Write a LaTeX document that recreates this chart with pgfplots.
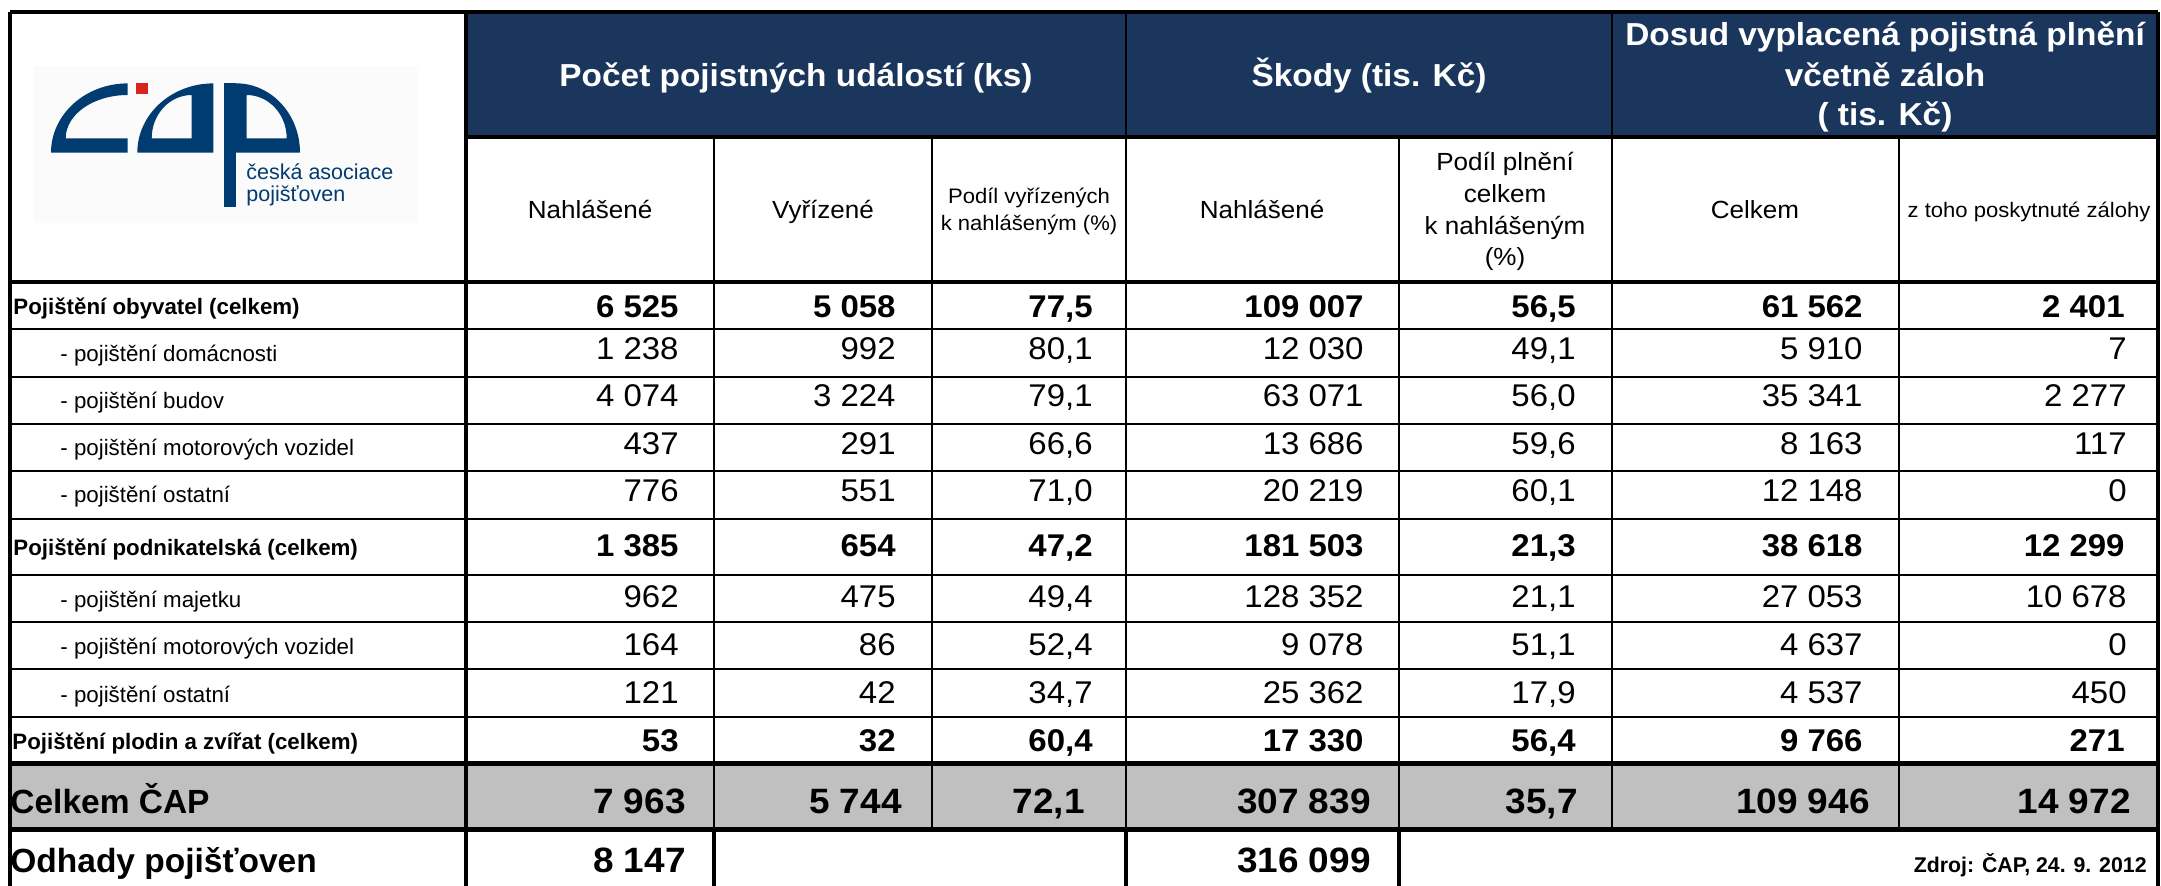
\documentclass[border=0pt]{standalone}
\usepackage{fontspec}
\setmainfont{Liberation Sans}
\newfontfamily\stretched{Liberation Sans}[FakeStretch=1.05]
\usepackage{pgfplots}
\usepackage{pgfplotstable}
\pgfplotsset{compat=1.18}
\definecolor{navy}{RGB}{26,54,93}
\definecolor{logoblue}{RGB}{0,59,113}
\definecolor{logored}{RGB}{218,37,29}
\definecolor{rowgray}{RGB}{192,192,192}
\newcommand\fs[1]{\fontsize{#1}{#1}\selectfont}
\pgfkeys{/pgf/number format/cnt/.style={fixed, precision=0, 1000 sep={\ }, assume math mode=true},
         /pgf/number format/pct/.style={fixed, fixed zerofill, precision=1, use comma, assume math mode=true}}

% y = baseline of the row (px from top); a..g = the seven value columns
\pgfplotstableread{
y a b c d e f g
359 1238 992 80.1 12030 49.1 5910 7
406.5 4074 3224 79.1 63071 56.0 35341 2277
454 437 291 66.6 13686 59.6 8163 117
501.5 776 551 71.0 20219 60.1 12148 0
607 962 475 49.4 128352 21.1 27053 10678
655 164 86 52.4 9078 51.1 4637 0
703 121 42 34.7 25362 17.9 4537 450
}\regrows
\pgfplotstableread{
y a b c d e f g
317 6525 5058 77.5 109007 56.5 61562 2401
556 1385 654 47.2 181503 21.3 38618 12299
751 53 32 60.4 17330 56.4 9766 271
}\boldrows
\pgfplotstableread{
y a b c d e f g
813 7963 5744 72.1 307839 35.7 109946 14972
}\totalrow
\pgfplotstableread{
x y v
686 872 8147
1371 872 316099
}\estrow

\pgfplotsset{
  cellbase/.style={only marks, mark=none, point meta=explicit symbolic,
     every node near coord/.append style={anchor=base east, inner sep=0pt, text=black}},
  creg/.style={cellbase, nodes near coords={\pgfmathprintnumber[cnt]{\pgfplotspointmeta}},
     every node near coord/.append style={font=\stretched\fs{15.7}}},
  preg/.style={cellbase, nodes near coords={\pgfmathprintnumber[pct]{\pgfplotspointmeta}},
     every node near coord/.append style={font=\stretched\fs{15.7}}},
  cbold/.style={cellbase, nodes near coords={\pgfmathprintnumber[cnt]{\pgfplotspointmeta}},
     every node near coord/.append style={font=\stretched\bfseries\fs{15.7}}},
  pbold/.style={cellbase, nodes near coords={\pgfmathprintnumber[pct]{\pgfplotspointmeta}},
     every node near coord/.append style={font=\stretched\bfseries\fs{15.7}}},
  cbig/.style={cellbase, nodes near coords={\pgfmathprintnumber[cnt]{\pgfplotspointmeta}},
     every node near coord/.append style={font=\stretched\bfseries\fs{17.6}}},
  pbig/.style={cellbase, nodes near coords={\pgfmathprintnumber[pct]{\pgfplotspointmeta}},
     every node near coord/.append style={font=\stretched\bfseries\fs{17.6}}},
}

\begin{document}
\begin{tikzpicture}
\useasboundingbox (0,0) rectangle (1080.5pt,442.5pt);
\begin{axis}[
  at={(0,0)}, anchor=south west,
  scale only axis, width=1080.5pt, height=442.5pt,
  xmin=0, xmax=2161, ymin=0, ymax=885, y dir=reverse,
  hide axis, clip=true,
]
% ---- fills
\fill[navy] (axis cs:466,12) rectangle (axis cs:2158,137);
\fill[rowgray] (axis cs:10,763) rectangle (axis cs:2158,829);
\fill[white!97!gray] (axis cs:33,66) rectangle (axis cs:417,223);

% ---- logo
\fill[logoblue] (axis cs:51,152.7) arc[start angle=180, end angle=90, x radius=38.35pt, y radius=34.65pt]
   -- (axis cs:127.7,95) arc[start angle=90, end angle=180, x radius=31pt, y radius=21.65pt]
   -- (axis cs:127.7,138.3) -- (axis cs:127.7,152.7) -- cycle;
\fill[logored] (axis cs:136,82.7) rectangle (axis cs:148.3,94);
\fill[logoblue, even odd rule] (axis cs:137.3,152.7) arc[start angle=180, end angle=90, x radius=38pt, y radius=34.65pt]
   -- (axis cs:213.3,152.7) -- cycle
   (axis cs:151.7,138.3) arc[start angle=180, end angle=90, x radius=20pt, y radius=21.65pt]
   -- (axis cs:191.7,138.3) -- cycle;
\fill[logoblue] (axis cs:224,83.3) rectangle (axis cs:236,206.7);
\fill[logoblue, even odd rule] (axis cs:236,83.3) arc[start angle=90, end angle=0, x radius=32pt, y radius=34.65pt]
   -- (axis cs:236,152.7) -- cycle
   (axis cs:246.7,95) arc[start angle=90, end angle=0, x radius=20pt, y radius=21.65pt]
   -- (axis cs:246.7,138.3) -- cycle;
\node[anchor=base west, inner sep=0pt, text=logoblue, font=\fs{10.75}] at (axis cs:246,179.3) {česká asociace};
\node[anchor=base west, inner sep=0pt, text=logoblue, font=\fs{10.75}] at (axis cs:246,201.7) {pojišťoven};

% ---- grid lines
\draw[line width=2pt] (axis cs:10,12) -- (axis cs:2158,12);
\draw[line width=1.75pt] (axis cs:10,12) -- (axis cs:10,890);
\draw[line width=2pt] (axis cs:2158,12) -- (axis cs:2158,890);
\draw[line width=1.6pt] (axis cs:466,137) -- (axis cs:2158,137);
\draw[line width=2.25pt] (axis cs:10,282) -- (axis cs:2158,282);
\pgfplotsinvokeforeach{329,377,424,471,519,575,622,669,717}{
  \draw[line width=1.35pt] (axis cs:10,#1) -- (axis cs:2158,#1);
}
\draw[line width=2.5pt] (axis cs:10,763) -- (axis cs:2158,763);
\draw[line width=2.5pt] (axis cs:10,829) -- (axis cs:2158,829);
\draw[line width=1.75pt] (axis cs:466,12) -- (axis cs:466,890);
\draw[line width=1.35pt] (axis cs:1126,12) -- (axis cs:1126,829);
\draw[line width=1.35pt] (axis cs:1612,12) -- (axis cs:1612,829);
\pgfplotsinvokeforeach{714,932,1399,1899}{
  \draw[line width=1.35pt] (axis cs:#1,137) -- (axis cs:#1,829);
}
\pgfplotsinvokeforeach{466,714,1126,1399}{
  \draw[line width=2pt] (axis cs:#1,829) -- (axis cs:#1,890);
}

% ---- header row 1
\begin{scope}[every node/.style={anchor=base, inner sep=0pt, text=white, font=\stretched\bfseries\fs{15.9}}]
\node at (axis cs:796,86) {Počet pojistných událostí (ks)};
\node at (axis cs:1369,86) {Škody (tis. Kč)};
\node at (axis cs:1885,45) {Dosud vyplacená pojistná plnění};
\node at (axis cs:1885,86) {včetně záloh};
\node at (axis cs:1885,125) {( tis. Kč)};
\end{scope}
% ---- header row 2
\begin{scope}[every node/.style={anchor=base, inner sep=0pt, text=black, font=\stretched\fs{12.4}}]
\node at (axis cs:590,218) {Nahlášené};
\node at (axis cs:823,218) {Vyřízené};
\node at (axis cs:1262,218) {Nahlášené};
\node at (axis cs:1505,170) {Podíl plnění};
\node at (axis cs:1505,202) {celkem};
\node at (axis cs:1505,234) {k nahlášeným};
\node at (axis cs:1505,265) {(\%)};
\node at (axis cs:1755,218) {Celkem};
\end{scope}
\begin{scope}[every node/.style={anchor=base, inner sep=0pt, text=black, font=\stretched\fs{10.5}}]
\node at (axis cs:1029,203) {Podíl vyřízených};
\node at (axis cs:1029,230) {k nahlášeným (\%)};
\node at (axis cs:2029,217) {z toho poskytnuté zálohy};
\end{scope}

% ---- row labels
\begin{scope}[every node/.style={anchor=base west, inner sep=0pt, text=black, font=\bfseries\fs{11.15}}]
\node at (axis cs:13,314) {Pojištění obyvatel (celkem)};
\node at (axis cs:13,555.5) {Pojištění podnikatelská (celkem)};
\node at (axis cs:12,749) {Pojištění plodin a zvířat (celkem)};
\end{scope}
\begin{scope}[every node/.style={anchor=base west, inner sep=0pt, text=black, font=\fs{11.15}}]
\node at (axis cs:60,361) {- pojištění domácnosti};
\node at (axis cs:60,408) {- pojištění budov};
\node at (axis cs:60,455.3) {- pojištění motorových vozidel};
\node at (axis cs:60,502.7) {- pojištění ostatní};
\node at (axis cs:60,607) {- pojištění majetku};
\node at (axis cs:60,654.5) {- pojištění motorových vozidel};
\node at (axis cs:60,702) {- pojištění ostatní};
\end{scope}
\node[anchor=base west, inner sep=0pt, font=\bfseries\fs{16.75}] at (axis cs:10,813) {Celkem ČAP};
\node[anchor=base west, inner sep=0pt, font=\bfseries\fs{16.75}] at (axis cs:10,872.5) {Odhady pojišťoven};
\node[anchor=base east, inner sep=0pt, font=\bfseries\fs{10.65}] at (axis cs:2147,872) {Zdroj: ČAP, 24. 9. 2012};

% ---- values
\addplot[creg] table[x expr=679, y=y, meta=a] {\regrows};
\addplot[creg] table[x expr=896, y=y, meta=b] {\regrows};
\addplot[preg] table[x expr=1093, y=y, meta=c] {\regrows};
\addplot[creg] table[x expr=1364, y=y, meta=d] {\regrows};
\addplot[preg] table[x expr=1576, y=y, meta=e] {\regrows};
\addplot[creg] table[x expr=1863, y=y, meta=f] {\regrows};
\addplot[creg] table[x expr=2127, y=y, meta=g] {\regrows};

\addplot[cbold] table[x expr=679, y=y, meta=a] {\boldrows};
\addplot[cbold] table[x expr=896, y=y, meta=b] {\boldrows};
\addplot[pbold] table[x expr=1093, y=y, meta=c] {\boldrows};
\addplot[cbold] table[x expr=1364, y=y, meta=d] {\boldrows};
\addplot[pbold] table[x expr=1576, y=y, meta=e] {\boldrows};
\addplot[cbold] table[x expr=1863, y=y, meta=f] {\boldrows};
\addplot[cbold] table[x expr=2125, y=y, meta=g] {\boldrows};

\addplot[cbig] table[x expr=686, y=y, meta=a] {\totalrow};
\addplot[cbig] table[x expr=902, y=y, meta=b] {\totalrow};
\addplot[pbig] table[x expr=1085, y=y, meta=c] {\totalrow};
\addplot[cbig] table[x expr=1371, y=y, meta=d] {\totalrow};
\addplot[pbig] table[x expr=1578, y=y, meta=e] {\totalrow};
\addplot[cbig] table[x expr=1870, y=y, meta=f] {\totalrow};
\addplot[cbig] table[x expr=2131, y=y, meta=g] {\totalrow};

\addplot[cbig] table[x=x, y=y, meta=v] {\estrow};
\end{axis}
\end{tikzpicture}
\end{document}
